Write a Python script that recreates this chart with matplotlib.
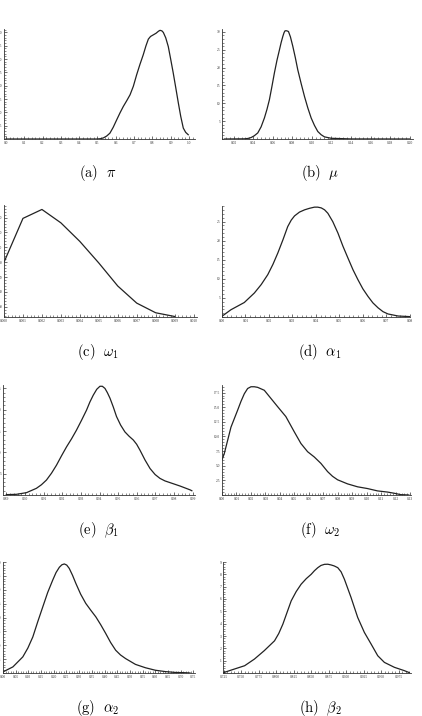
"""
Densités a posteriori des paramètres (style Mathematica)
"""

import matplotlib
matplotlib.use("Agg")
import matplotlib.pyplot as plt
from matplotlib.ticker import AutoMinorLocator

plt.rcParams['mathtext.fontset'] = 'cm'

# (a) pi
pi_x = [0.0, 0.495, 0.515, 0.532, 0.55, 0.568, 0.586, 0.605, 0.623, 0.641, 0.66, 0.678,
        0.696, 0.714, 0.732, 0.75, 0.765, 0.778, 0.79, 0.805, 0.82, 0.834, 0.842,
        0.852, 0.86, 0.873, 0.887, 0.9, 0.914, 0.928, 0.942, 0.955, 0.969, 0.982, 0.996]
pi_y = [0.0, 0.0, 0.01, 0.04, 0.11, 0.22, 0.44, 0.72, 0.98, 1.22, 1.44, 1.66,
        1.98, 2.41, 2.80, 3.16, 3.50, 3.75, 3.85, 3.91, 3.97, 4.05, 4.08,
        4.06, 4.0, 3.80, 3.47, 3.00, 2.48, 1.92, 1.35, 0.85, 0.41, 0.25, 0.16]
pi_xt = [0.0, 0.1, 0.2, 0.3, 0.4, 0.5, 0.6, 0.7, 0.8, 0.9, 1.0]
pi_yt = [0.5, 1.0, 1.5, 2.0, 2.5, 3.0, 3.5, 4.0]

# (b) mu
mu_x = [0.0104, 0.0309, 0.0345, 0.0377, 0.041, 0.0446, 0.048, 0.0514, 0.054, 0.0565,
        0.059, 0.0616, 0.0642, 0.0668, 0.0685, 0.0702, 0.0715, 0.0725, 0.0742, 0.076,
        0.078, 0.0804, 0.083, 0.0855, 0.089, 0.0924, 0.0958, 0.0992, 0.1026, 0.106,
        0.1094, 0.1128, 0.1197, 0.14, 0.20]
mu_y = [0.0, 0.05, 0.15, 0.4, 0.9, 1.7, 3.4, 5.9, 8.3, 11.0,
        14.6, 18.5, 22.0, 25.0, 27.0, 28.7, 29.8, 30.3, 30.3, 30.1,
        28.6, 26.0, 22.8, 19.4, 15.5, 11.9, 8.7, 5.9, 3.8, 2.1,
        1.2, 0.6, 0.2, 0.02, 0.0]
mu_xt = [0.02, 0.04, 0.06, 0.08, 0.10, 0.12, 0.14, 0.16, 0.18, 0.20]
mu_yt = [5, 10, 15, 20, 25, 30]

# (c) omega_1
w1_x = [0.000, 0.001, 0.002, 0.003, 0.004, 0.005, 0.006, 0.007, 0.008, 0.009]
w1_y = [80, 139, 151, 133, 108, 79, 48, 25, 12, 7]
w1_xt = [0.000, 0.001, 0.002, 0.003, 0.004, 0.005, 0.006, 0.007, 0.008, 0.009, 0.010]
w1_yt = [20, 40, 60, 80, 100, 120, 140]

# (d) alpha_1
a1_x = [0.0, 0.0038, 0.0095, 0.0138, 0.0167, 0.0195, 0.0217, 0.0238, 0.026, 0.028,
        0.0295, 0.0309, 0.033, 0.0352, 0.0373, 0.0394, 0.0408, 0.0423, 0.0437, 0.0451,
        0.0472, 0.0494, 0.0515, 0.0537, 0.0558, 0.0579, 0.06, 0.0622, 0.0643, 0.0665,
        0.0686, 0.0707, 0.075, 0.08]
a1_y = [0.2, 1.9, 3.8, 6.3, 8.5, 11.1, 13.8, 16.8, 20.3, 23.7,
        25.4, 26.5, 27.5, 28.1, 28.5, 28.8, 28.8, 28.6, 28.1, 27.2,
        25.0, 22.0, 18.6, 15.4, 12.4, 9.8, 7.4, 5.4, 3.7, 2.4,
        1.4, 0.8, 0.26, 0.1]
a1_xt = [0.00, 0.01, 0.02, 0.03, 0.04, 0.05, 0.06, 0.07, 0.08]
a1_yt = [5, 10, 15, 20, 25]

# (e) beta_1
b1_x = [0.89, 0.8954, 0.9008, 0.9061, 0.9088, 0.9115, 0.9142, 0.9169, 0.9196, 0.9223,
        0.925, 0.9276, 0.9303, 0.933, 0.9348, 0.9366, 0.9385, 0.9402, 0.9415, 0.9429,
        0.9442, 0.9456, 0.9474, 0.9491, 0.9513, 0.9536, 0.9558, 0.9581, 0.9599, 0.9617,
        0.9644, 0.9671, 0.9698, 0.9724, 0.9751, 0.9778, 0.9832, 0.9886, 0.9895]
b1_y = [0.08, 0.16, 0.55, 1.56, 2.4, 3.5, 5.1, 7.0, 9.2, 11.3,
        13.2, 15.2, 17.5, 19.9, 21.8, 23.4, 24.8, 25.5, 25.5, 25.0,
        24.0, 22.7, 20.6, 18.4, 16.4, 14.8, 13.8, 12.9, 11.9, 10.5,
        8.2, 6.2, 4.8, 3.9, 3.3, 2.9, 2.1, 1.2, 1.0]
b1_xt = [0.89, 0.90, 0.91, 0.92, 0.93, 0.94, 0.95, 0.96, 0.97, 0.98, 0.99]
b1_yt = [5, 10, 15, 20, 25]

# (f) omega_2
w2_x = [0.0, 0.0016, 0.0062, 0.0108, 0.0131, 0.0154, 0.0177, 0.0200, 0.0223, 0.0246,
        0.0292, 0.0338, 0.0384, 0.0441, 0.0499, 0.0545, 0.0591, 0.0637, 0.0683, 0.0729,
        0.0763, 0.0798, 0.0867, 0.0936, 0.1005, 0.1074, 0.1143, 0.1189, 0.1234, 0.129]
w2_y = [6.0, 7.1, 11.6, 14.5, 16.0, 17.3, 18.2, 18.5, 18.5, 18.4,
        17.9, 16.5, 15.1, 13.4, 10.8, 8.8, 7.4, 6.5, 5.4, 4.0,
        3.2, 2.6, 1.9, 1.4, 1.1, 0.7, 0.5, 0.3, 0.06, 0.0]
w2_xt = [0.00, 0.01, 0.02, 0.03, 0.04, 0.05, 0.06, 0.07, 0.08, 0.09, 0.10, 0.11, 0.12, 0.13]
w2_yt = [2.5, 5.0, 7.5, 10.0, 12.5, 15.0, 17.5]

# (g) alpha_2
a2_x = [0.0, 0.039, 0.078, 0.098, 0.1175, 0.137, 0.157, 0.176, 0.196, 0.209,
        0.222, 0.232, 0.2415, 0.251, 0.261, 0.274, 0.287, 0.306, 0.326, 0.346,
        0.366, 0.385, 0.405, 0.424, 0.444, 0.463, 0.483, 0.522, 0.561, 0.600,
        0.640, 0.679, 0.718, 0.737]
a2_y = [0.04, 0.22, 0.58, 0.90, 1.30, 1.85, 2.39, 2.90, 3.35, 3.62,
        3.81, 3.90, 3.93, 3.89, 3.77, 3.52, 3.23, 2.84, 2.51, 2.26,
        2.02, 1.74, 1.42, 1.10, 0.82, 0.65, 0.52, 0.31, 0.19, 0.10,
        0.05, 0.02, 0.01, 0.0]
a2_xt = [0.00, 0.05, 0.10, 0.15, 0.20, 0.25, 0.30, 0.35, 0.40, 0.45, 0.50,
         0.55, 0.60, 0.65, 0.70, 0.75]
a2_yt = [0.5, 1.0, 1.5, 2.0, 2.5, 3.0, 3.5, 4.0]

# (h) beta_2
b2_x = [0.725, 0.736, 0.755, 0.769, 0.783, 0.7977, 0.8037, 0.8096, 0.8155, 0.8215,
        0.8286, 0.8357, 0.843, 0.85, 0.8548, 0.8595, 0.864, 0.869, 0.8738, 0.8785,
        0.883, 0.888, 0.8928, 0.8975, 0.902, 0.907, 0.9118, 0.9165, 0.926, 0.9356,
        0.9451, 0.9546, 0.9689, 0.9831, 0.9902]
b2_y = [0.03, 0.24, 0.59, 1.13, 1.81, 2.61, 3.20, 3.96, 4.90, 5.85,
        6.60, 7.2, 7.65, 8.0, 8.30, 8.54, 8.72, 8.81, 8.82, 8.76,
        8.68, 8.54, 8.20, 7.6, 6.90, 6.12, 5.30, 4.5, 3.29, 2.35,
        1.4, 0.86, 0.46, 0.19, 0.03]
b2_xt = [0.725, 0.750, 0.775, 0.800, 0.825, 0.850, 0.875, 0.900, 0.925, 0.950, 0.975]
b2_yt = [1, 2, 3, 4, 5, 6, 7, 8, 9]

W, H = 422, 716

# panneaux : (x, y, ticks x, ticks y, format x, format y, xlim, ylim, boîte px, légende)
panels = [
    (pi_x, pi_y, pi_xt, pi_yt, "{:.1f}", "{:.1f}", (-0.011, 1.033), (0, 4.13),
     (4, 29, 195, 139), r"$\mathrm{(a)}\ \ \pi$"),
    (mu_x, mu_y, mu_xt, mu_yt, "{:.2f}", "{:d}", (0.008, 0.2034), (0, 30.8),
     (222, 29, 413, 139), r"$\mathrm{(b)}\ \ \mu$"),
    (w1_x, w1_y, w1_xt, w1_yt, "{:.3f}", "{:d}", (0.0, 0.01018), (6.3, 157),
     (4, 205, 197, 317), r"$\mathrm{(c)}\ \ \omega_1$"),
    (a1_x, a1_y, a1_xt, a1_yt, "{:.2f}", "{:d}", (0.0, 0.0801), (0, 29.1),
     (222, 206, 410, 317), r"$\mathrm{(d)}\ \ \alpha_1$"),
    (b1_x, b1_y, b1_xt, b1_yt, "{:.2f}", "{:d}", (0.8882, 0.9912), (0, 25.8),
     (3, 385, 195, 495), r"$\mathrm{(e)}\ \ \beta_1$"),
    (w2_x, w2_y, w2_xt, w2_yt, "{:.2f}", "{:.1f}", (0.0, 0.1305), (0, 18.8),
     (222, 385, 411, 495), r"$\mathrm{(f)}\ \ \omega_2$"),
    (a2_x, a2_y, a2_xt, a2_yt, "{:.2f}", "{:.1f}", (0.0, 0.7565), (0, 4.0),
     (3, 562, 195, 673), r"$\mathrm{(g)}\ \ \alpha_2$"),
    (b2_x, b2_y, b2_xt, b2_yt, "{:.3f}", "{:d}", (0.7241, 0.9926), (0, 8.95),
     (223, 562, 411, 673), r"$\mathrm{(h)}\ \ \beta_2$"),
]

caption_y = [173, 173, 352, 352, 530, 530, 708, 708]
caption_x = [98, 320, 98, 320, 98, 320, 98, 320]

fig = plt.figure(figsize=(W / 100, H / 100), dpi=100)

for i, (xs, ys, xt, yt, fx, fy, xl, yl, box, cap) in enumerate(panels):
    l, t, r, b = box
    ax = fig.add_axes([l / W, 1 - b / H, (r - l) / W, (b - t) / H])
    ax.plot(xs, ys, color="#222222", lw=0.9, solid_joinstyle="round")
    ax.set_xlim(*xl)
    ax.set_ylim(*yl)
    ax.set_xticks(xt, [fx.format(v) for v in xt])
    ax.set_yticks(yt, [fy.format(v) for v in yt])
    ax.xaxis.set_minor_locator(AutoMinorLocator(5))
    ax.yaxis.set_minor_locator(AutoMinorLocator(5))
    for s in ("top", "right"):
        ax.spines[s].set_visible(False)
    for s in ("left", "bottom"):
        ax.spines[s].set_linewidth(0.6)
        ax.spines[s].set_color("#333333")
    ax.tick_params(which="major", direction="in", length=2.2, width=0.5,
                   labelsize=2.6, pad=1.2, colors="#333333")
    ax.tick_params(which="minor", direction="in", length=1.1, width=0.4,
                   colors="#333333")
    for lab in ax.get_xticklabels() + ax.get_yticklabels():
        lab.set_fontfamily("Liberation Serif")
    ax.patch.set_alpha(0)

    fig.text(caption_x[i] / W, 1 - caption_y[i] / H, cap, ha="center",
             va="center", fontsize=10.5)

fig.savefig("out.png", dpi=100)
